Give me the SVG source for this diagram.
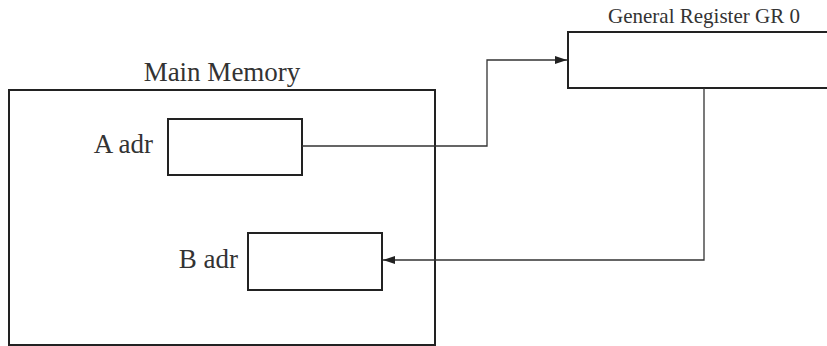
<svg xmlns="http://www.w3.org/2000/svg" width="827" height="346" viewBox="0 0 827 346">
<style>
.box{fill:none;stroke:#222;stroke-width:2}
.ln{fill:none;stroke:#333;stroke-width:1.3}
text{font-family:"Liberation Serif","DejaVu Serif",serif;fill:#333}
.lbl{font-size:27px;text-anchor:end}
</style>
<defs>
<marker id="ar" viewBox="0 0 12 8" refX="12" refY="4" markerWidth="12" markerHeight="8" markerUnits="userSpaceOnUse" orient="auto">
<path d="M0,0 L12,4 L0,8 Z" fill="#222"/>
</marker>
</defs>
<rect width="827" height="346" fill="#fff"/>
<g id="main-memory">
<path class="box" d="M435,346 V90 H9 V345 H435"/>
<text x="222" y="81" font-size="27" text-anchor="middle">Main Memory</text>
</g>
<g id="a-adr">
<rect class="box" x="168" y="119" width="134" height="56"/>
<text class="lbl" x="153" y="153">A adr</text>
</g>
<g id="b-adr">
<rect class="box" x="248" y="233" width="134" height="57"/>
<text class="lbl" x="238" y="268">B adr</text>
</g>
<g id="gr0">
<path class="box" d="M830,32 H568 V88 H830"/>
<text x="704" y="23" font-size="21" text-anchor="middle">General Register GR 0</text>
</g>
<g id="connectors">
<path class="ln" d="M302,146 H487 V60 H567" marker-end="url(#ar)"/>
<path class="ln" d="M704,88 V260 H383" marker-end="url(#ar)"/>
</g>
</svg>
